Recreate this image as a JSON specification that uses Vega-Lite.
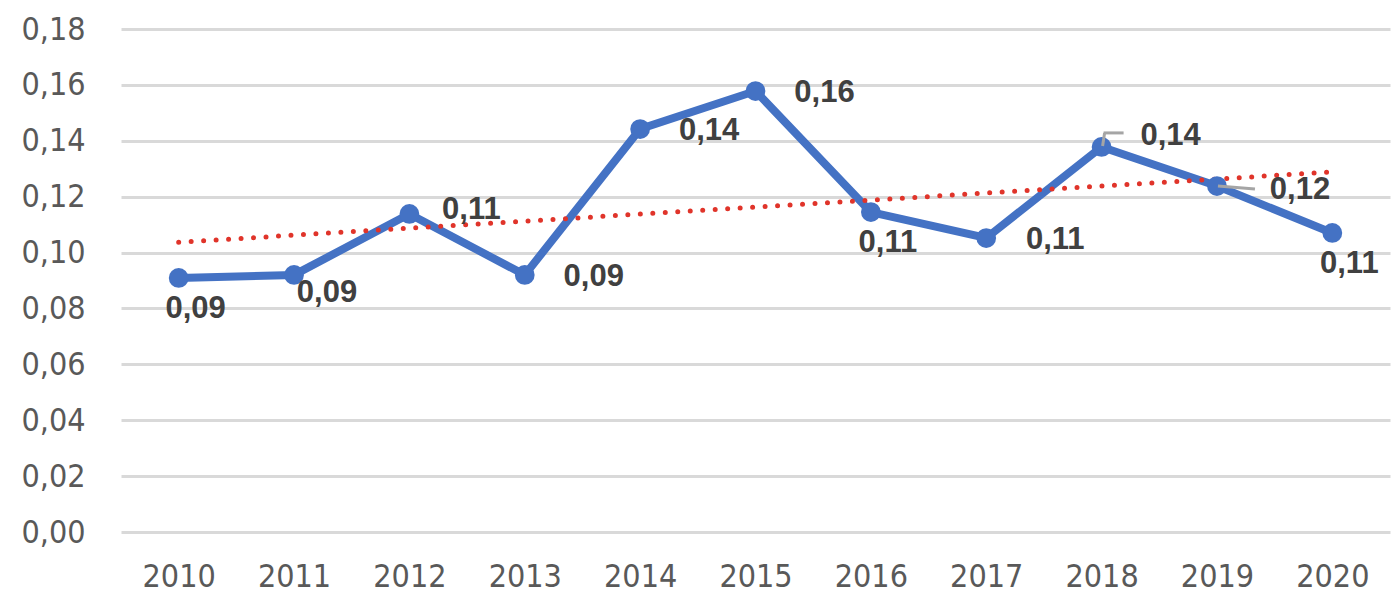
{
  "$schema": "https://vega.github.io/schema/vega-lite/v6.json",
  "width": 1269,
  "height": 503,
  "autosize": "none",
  "padding": {"left": 121, "top": 29, "right": 7, "bottom": 68},
  "background": "white",
  "config": {
    "view": {"stroke": null},
    "locale": {
      "number": {"decimal": ",", "thousands": ".", "grouping": [3], "currency": ["", " €"]}
    },
    "axis": {
      "labelFont": "DejaVu Sans Condensed, Roboto",
      "labelFontSize": 32,
      "labelColor": "#595959",
      "ticks": false,
      "domain": false,
      "title": null
    }
  },
  "data": {
    "values": [
      {"year": 2010, "v": 0.0909},
      {"year": 2011, "v": 0.092},
      {"year": 2012, "v": 0.1138},
      {"year": 2013, "v": 0.092},
      {"year": 2014, "v": 0.1442},
      {"year": 2015, "v": 0.1578},
      {"year": 2016, "v": 0.1145},
      {"year": 2017, "v": 0.1052},
      {"year": 2018, "v": 0.1378},
      {"year": 2019, "v": 0.1238},
      {"year": 2020, "v": 0.107}
    ]
  },
  "encoding": {
    "x": {
      "field": "year",
      "type": "quantitative",
      "scale": {"domain": [2009.5, 2020.5], "nice": false, "zero": false},
      "axis": {
        "values": [2010, 2011, 2012, 2013, 2014, 2015, 2016, 2017, 2018, 2019, 2020],
        "format": "d",
        "grid": false,
        "labelPadding": 29
      }
    },
    "y": {
      "field": "v",
      "type": "quantitative",
      "scale": {"domain": [0, 0.18], "nice": false},
      "axis": {
        "values": [0, 0.02, 0.04, 0.06, 0.08, 0.1, 0.12, 0.14, 0.16, 0.18],
        "format": ".2f",
        "gridColor": "#D9D9D9",
        "gridWidth": 3,
        "labelPadding": 36
      }
    }
  },
  "layer": [
    {
      "mark": {"type": "line", "color": "#4472C4", "strokeWidth": 8}
    },
    {
      "transform": [{"regression": "v", "on": "year"}],
      "mark": {
        "type": "line",
        "color": "#E0342A",
        "strokeWidth": 5,
        "strokeDash": [0, 12.5],
        "strokeCap": "round"
      }
    },
    {
      "mark": {"type": "circle", "color": "#4472C4", "size": 390, "opacity": 1}
    },
    {
      "transform": [{"filter": "datum.year == 2018"}],
      "mark": {"type": "rule", "color": "#A5A5A5", "strokeWidth": 3, "xOffset": 1, "x2Offset": 3, "yOffset": -1, "y2Offset": -14},
      "encoding": {"x2": {"field": "year"}, "y2": {"field": "v"}}
    },
    {
      "transform": [{"filter": "datum.year == 2018"}],
      "mark": {"type": "rule", "color": "#A5A5A5", "strokeWidth": 3, "xOffset": 2, "x2Offset": 22, "yOffset": -14, "y2Offset": -14},
      "encoding": {"x2": {"field": "year"}, "y2": {"field": "v"}}
    },
    {
      "transform": [{"filter": "datum.year == 2019"}],
      "mark": {"type": "rule", "color": "#A5A5A5", "strokeWidth": 3, "xOffset": 1, "x2Offset": 38, "yOffset": 0, "y2Offset": 3},
      "encoding": {"x2": {"field": "year"}, "y2": {"field": "v"}}
    },
    {
      "transform": [{"filter": "indexof([2013, 2014, 2015, 2017], datum.year) >= 0"}],
      "mark": {"type": "text", "font": "Liberation Sans", "fontWeight": "bold", "fontSize": 31, "color": "#404040", "baseline": "middle", "dx": 69, "dy": 2},
      "encoding": {"text": {"field": "v", "type": "quantitative", "format": ".2f"}}
    },
    {
      "transform": [{"filter": "indexof([2010, 2016, 2020], datum.year) >= 0"}],
      "mark": {"type": "text", "font": "Liberation Sans", "fontWeight": "bold", "fontSize": 31, "color": "#404040", "baseline": "middle", "dx": 17, "dy": 31},
      "encoding": {"text": {"field": "v", "type": "quantitative", "format": ".2f"}}
    },
    {
      "transform": [{"filter": "datum.year == 2011"}],
      "mark": {"type": "text", "font": "Liberation Sans", "fontWeight": "bold", "fontSize": 31, "color": "#404040", "baseline": "middle", "dx": 33, "dy": 18},
      "encoding": {"text": {"field": "v", "type": "quantitative", "format": ".2f"}}
    },
    {
      "transform": [{"filter": "datum.year == 2012"}],
      "mark": {"type": "text", "font": "Liberation Sans", "fontWeight": "bold", "fontSize": 31, "color": "#404040", "baseline": "middle", "dx": 62, "dy": -4},
      "encoding": {"text": {"field": "v", "type": "quantitative", "format": ".2f"}}
    },
    {
      "transform": [{"filter": "datum.year == 2018"}],
      "mark": {"type": "text", "font": "Liberation Sans", "fontWeight": "bold", "fontSize": 31, "color": "#404040", "baseline": "middle", "dx": 69, "dy": -11},
      "encoding": {"text": {"field": "v", "type": "quantitative", "format": ".2f"}}
    },
    {
      "transform": [{"filter": "datum.year == 2019"}],
      "mark": {"type": "text", "font": "Liberation Sans", "fontWeight": "bold", "fontSize": 31, "color": "#404040", "baseline": "middle", "dx": 83, "dy": 4},
      "encoding": {"text": {"field": "v", "type": "quantitative", "format": ".2f"}}
    }
  ]
}
